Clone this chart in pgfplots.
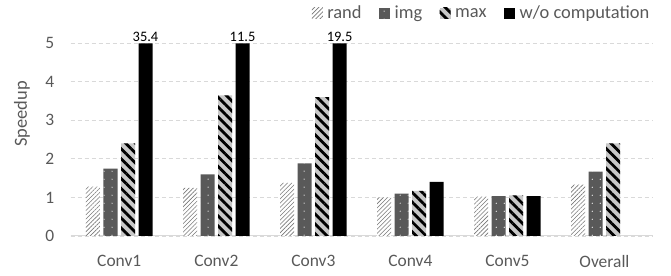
\documentclass[border=0pt]{standalone}
\usepackage{fontspec}
\setmainfont{Carlito}
\usepackage{pgfplots}
\pgfplotsset{compat=1.18}
\usetikzlibrary{patterns.meta}
\definecolor{txt}{RGB}{89,89,89}
\definecolor{gridc}{RGB}{217,217,217}
\definecolor{imgc}{RGB}{89,89,89}
\definecolor{maxc}{RGB}{200,200,200}
\definecolor{randl}{RGB}{120,120,120}
\begin{document}
\begin{tikzpicture}
\begin{axis}[
  scale only axis, width=582bp, height=192.5bp,
  ymin=0, ymax=5, xmin=-0.5, xmax=5.5,
  ybar=3.5bp, bar width=14bp,
  clip=false,
  axis line style={draw=none},
  major tick length=0pt,
  ytick={0,1,2,3,4,5},
  xtick={0,1,2,3,4,5},
  xticklabels={Conv1,Conv2,Conv3,Conv4,Conv5,Overall},
  /pgf/number format/assume math mode=true,
  ticklabel style={font=\fontsize{17.5}{20}\selectfont, text=txt},
  yticklabel style={xshift=-13bp},
  xticklabel style={yshift=-16bp},
  ymajorgrids,
  grid style={gridc, dashed, dash pattern=on 4bp off 3bp, line width=0.8bp},
  extra y ticks={0},
  extra y tick labels={},
  extra y tick style={grid style={solid, gridc, line width=1bp}},
  ylabel={Speedup},
  every axis y label/.style={at={(axis description cs:0,0.634)}, xshift=-48.7bp, anchor=center, rotate=90, font=\fontsize{18.5}{21}\selectfont, text=txt},
  legend columns=-1,
  legend style={draw=none, fill=none, at={(rel axis cs:1,1)}, anchor=east, yshift=30bp, xshift=-2bp,
    font=\fontsize{18.5}{21}\selectfont, text=txt,
    nodes={inner sep=1.5bp},
    /tikz/every even column/.append style={column sep=16bp},
    inner sep=0pt},
  legend image code/.code={\path[#1, draw=none] (0bp,-5.5bp) rectangle (11bp,5.5bp); \path (14bp,0bp);},
  nodes near coords style={font=\fontsize{14.5}{16}\selectfont, text=black, inner sep=1.5bp},
]
% rand
\addplot[draw=none, fill=white, postaction={pattern={Lines[angle=45, distance=3bp, line width=0.6bp]}, pattern color=randl}]
  coordinates {(0,1.28) (1,1.25) (2,1.38) (3,1.00) (4,1.02) (5,1.33)};
% img
\addplot[draw=none, fill=imgc, postaction={pattern={Dots[distance=8bp, radius=0.6bp]}, pattern color=white}]
  coordinates {(0,1.75) (1,1.60) (2,1.88) (3,1.10) (4,1.03) (5,1.67)};
% max
\addplot[draw=none, fill=maxc, postaction={pattern={Lines[angle=-45, distance=7bp, line width=2.8bp]}, pattern color=black}]
  coordinates {(0,2.40) (1,3.65) (2,3.60) (3,1.17) (4,1.05) (5,2.40)};
% w/o computation
\addplot[draw=none, fill=black, point meta=explicit symbolic, nodes near coords]
  coordinates {(0,5) [35.4] (1,5) [11.5] (2,5) [19.5] (3,1.40) [\empty] (4,1.03) [\empty]};
\legend{rand, img, max, w/o computation}
\end{axis}
\pgfresetboundingbox
\path (-70.7bp,-39.3bp) rectangle (600bp,235.8bp);
\end{tikzpicture}
\end{document}
